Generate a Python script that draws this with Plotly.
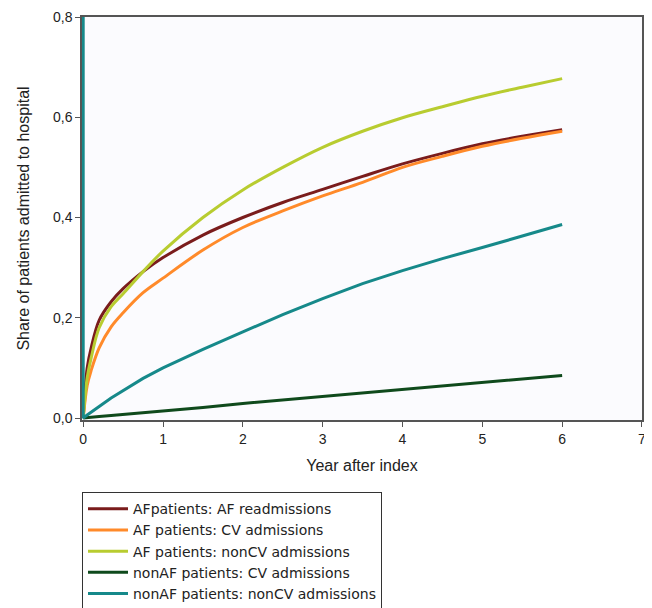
import plotly.graph_objects as go

years = [0, 0.05, 0.1, 0.2, 0.35, 0.5, 0.75, 1, 1.5, 2, 2.5, 3, 3.5, 4, 4.5, 5, 5.5, 6]

af_readm = [0, 0.10, 0.14, 0.195, 0.232, 0.258, 0.292, 0.320, 0.365, 0.400, 0.430, 0.456, 0.482, 0.507, 0.528, 0.547, 0.562, 0.575]
af_cv = [0, 0.065, 0.095, 0.14, 0.182, 0.210, 0.250, 0.279, 0.335, 0.380, 0.413, 0.443, 0.470, 0.500, 0.522, 0.542, 0.558, 0.572]
af_noncv = [0, 0.08, 0.12, 0.18, 0.222, 0.248, 0.292, 0.333, 0.400, 0.455, 0.500, 0.540, 0.572, 0.599, 0.621, 0.642, 0.660, 0.677]
nonaf_cv = [0, 0.001, 0.0015, 0.003, 0.005, 0.007, 0.011, 0.014, 0.021, 0.029, 0.036, 0.043, 0.050, 0.057, 0.064, 0.071, 0.078, 0.085]
# the nonAF nonCV series starts with a vertical segment at year 0 in the source
nonaf_noncv_x = [0] + years
nonaf_noncv = [0.8, 0, 0.006, 0.012, 0.023, 0.04, 0.055, 0.079, 0.10, 0.137, 0.172, 0.206, 0.238, 0.268, 0.294, 0.318, 0.340, 0.363, 0.386]

names = ["AFpatients: AF readmissions", "AF patients: CV admissions",
         "AF patients: nonCV admissions", "nonAF patients: CV admissions",
         "nonAF patients: nonCV admissions"]
colors = ["#7a1c1c", "#ff8a2a", "#b8cc30", "#0f4a1c", "#16898a"]
shapes = ["spline", "spline", "spline", "linear", "linear"]

x_ticks = [0, 1, 2, 3, 4, 5, 6, 7]
y_ticks = [0, 0.2, 0.4, 0.6, 0.8]

fig = go.Figure()
series = [(years, af_readm), (years, af_cv), (years, af_noncv), (years, nonaf_cv), (nonaf_noncv_x, nonaf_noncv)]
for (xs, ys), n, c, s in zip(series, names, colors, shapes):
    fig.add_trace(go.Scatter(x=xs, y=ys, mode="lines", name=n,
                             line=dict(color=c, width=3, shape=s, smoothing=1.0 if s == "spline" else None)))

font_family = "Liberation Sans, Arial, sans-serif"
# the page body has an 8px default margin, so the figure is 8px smaller than the window
fig.update_layout(
    width=644, height=600,
    margin=dict(l=74, r=10, t=9, b=188, autoexpand=False),
    paper_bgcolor="white",
    plot_bgcolor="#fbfbfe",
    separators=", ",
    font=dict(family=font_family, color="#222222", size=14),
    legend=dict(x=0, y=-0.179, xanchor="left", yanchor="top",
                bordercolor="#333333", borderwidth=1,
                font=dict(size=14, color="#222222", family="DejaVu Sans, sans-serif"),
                bgcolor="white", tracegroupgap=0, itemwidth=40),
    showlegend=True,
)
fig.update_xaxes(range=[-0.015, 7.0005], tickvals=x_ticks, ticktext=[str(v) for v in x_ticks],
                 showgrid=False, zeroline=False, showline=True, linecolor="#555555",
                 linewidth=1.5, mirror=True, ticks="outside", ticklen=5, tickcolor="#555555",
                 tickfont=dict(size=14), automargin=False,
                 title=dict(text="Year after index", font=dict(size=16), standoff=14),
                 layer="below traces")
fig.update_yaxes(range=[-0.004, 0.8], tickvals=y_ticks, tickformat=".1f",
                 showgrid=False, zeroline=False, showline=True, linecolor="#555555",
                 linewidth=1.5, mirror=True, ticks="outside", ticklen=5, tickcolor="#555555",
                 tickfont=dict(size=14), automargin=False,
                 title=dict(text="Share of patients admitted to hospital", font=dict(size=16), standoff=19),
                 layer="below traces")

fig.write_html("out.html")
